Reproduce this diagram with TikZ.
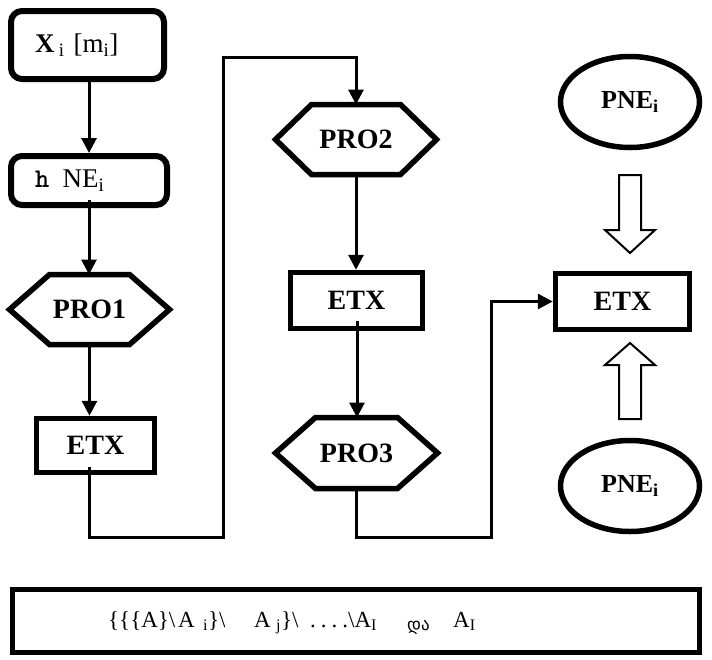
\documentclass[tikz,border=0pt]{standalone}
\usepackage{fontspec}
\setmainfont{Liberation Serif}
\newfontfamily\geofont{DejaVu Sans}
\usetikzlibrary{arrows.meta,shapes.geometric}

\tikzset{
  stepbox/.style={draw, line width=5.5pt, inner sep=0pt,
    font=\fontsize{28}{30}\selectfont\bfseries},
  roundbox/.style={draw, line width=6pt, rounded corners=11pt, inner sep=0pt,
    align=left, font=\fontsize{27}{30}\selectfont},
  hexnode/.style={inner sep=0pt, outer sep=0pt,
    font=\fontsize{28}{30}\selectfont\bfseries},
  hexline/.style={line width=5.5pt},
  pne/.style={ellipse, draw, line width=5.5pt, inner sep=0pt,
    minimum width=139pt, minimum height=91pt,
    font=\fontsize{26}{28}\selectfont\bfseries},
  flow/.style={line width=3pt},
  flowarrow/.style={flow, -{Triangle[length=15pt,width=15pt]}},
  blockarrow/.style={draw, line width=2pt, fill=white},
}

% hexagonal frame around a node: node name, slant inset
\newcommand\hexframe[2]{%
  \draw[hexline] (#1.west) -- ([xshift=#2]#1.north west)
    -- ([xshift=-#2]#1.north east) -- (#1.east)
    -- ([xshift=-#2]#1.south east) -- ([xshift=#2]#1.south west) -- cycle;}

% fixed-width piece of the set expression
\newcommand\seg[2]{\makebox[#1][l]{#2}}

\begin{document}
\begin{tikzpicture}[x=1pt,y=-1pt]
\useasboundingbox (0,0) rectangle (712,659);

% left column
\node[roundbox, minimum width=153pt, minimum height=68pt, text width=105pt]
  (xbox) at (87.5,45) {\textbf{X}\,\textsubscript{i} [m\textsubscript{i}]};
\node[roundbox, minimum width=156pt, minimum height=49pt, text width=108pt]
  (hbox) at (89,180.5) {{\ttfamily\bfseries h}\enspace NE\textsubscript{i}};
\node[hexnode, minimum width=160pt, minimum height=70pt] (p1) at (89.5,309.5) {PRO1};
\hexframe{p1}{40pt}
\node[stepbox, minimum width=118pt, minimum height=54pt] (e1) at (95.5,445.5) {ETX};

% middle column
\node[hexnode, minimum width=161pt, minimum height=70pt] (p2) at (356,139.5) {PRO2};
\hexframe{p2}{36pt}
\node[stepbox, minimum width=132pt, minimum height=56pt] (e2) at (356.5,300.5) {ETX};
\node[hexnode, minimum width=162pt, minimum height=71pt] (p3) at (356.5,453) {PRO3};
\hexframe{p3}{40pt}

% right column
\node[pne] (pneA) at (630,102) {PNE\textsubscript{i}};
\node[stepbox, minimum width=134pt, minimum height=56pt] (e3) at (622.5,301.5) {ETX};
\node[pne] (pneB) at (630,486) {PNE\textsubscript{i}};

% connectors
\coordinate (hout) at (89,200);
\coordinate (e1out) at (89,467);
\coordinate (e2out) at (357,321);
\coordinate (bend1) at (223,537);
\coordinate (bend2) at (223,57);
\coordinate (bend3) at (491,537);

\draw[flowarrow] (hbox.north |- xbox.south) -- (hbox.north);
\draw[flowarrow] (hout) -- (hout |- p1.north);
\draw[flowarrow] (p1.south) -- (p1.south |- e1.north);
\draw[flowarrow] (e1out) |- (bend1) -- (bend2) -| (p2.north);
\draw[flowarrow] (p2.south) -- (p2.south |- e2.north);
\draw[flowarrow] (e2out) -- (e2out |- p3.north);
\draw[flowarrow] (p3.south) |- (bend3) |- (e3.west);

% hollow block arrows towards the right ETX
\draw[blockarrow] (619,175) -- (641,175) -- (641,230) -- (655,230) -- (630,253)
  -- (605,230) -- (619,230) -- cycle;
\draw[blockarrow] (630,343) -- (655,365) -- (641,365) -- (641,419) -- (619,419)
  -- (619,365) -- (605,365) -- cycle;

% set expression
\node[draw, line width=5.5pt, minimum width=687pt, minimum height=63pt] (setbox) at (356,621) {};
\node[anchor=base west, inner sep=0pt, font=\fontsize{23}{26}\selectfont] (settext) at (108,627)
  {\seg{70pt}{\{\{\{A\}\textbackslash}%
   \seg{25pt}{A}%
   \seg{5pt}{\textsubscript{i}}%
   \seg{46pt}{\}\textbackslash}%
   \seg{22pt}{A}%
   \seg{5pt}{\textsubscript{j}}%
   \seg{29pt}{\}\textbackslash}%
   \seg{38pt}{.\hspace{5pt}.\hspace{5pt}.\hspace{5pt}.}%
   \seg{59pt}{\textbackslash A\textsubscript{I}}%
   \seg{46pt}{\raisebox{-3pt}{\geofont\fontsize{17}{19}\selectfont და}}%
   A\textsubscript{I}};
\end{tikzpicture}
\end{document}
